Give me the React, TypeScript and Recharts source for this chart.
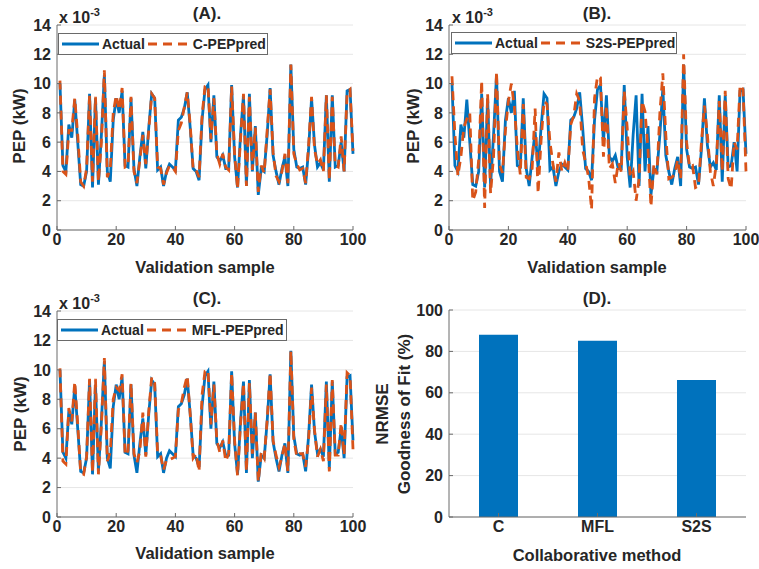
import React from "react";
import { Bar, BarChart, CartesianGrid, Line, LineChart, XAxis, YAxis } from "recharts";

// sample index on the x axis
const samples = Array.from({ length: 100 }, (_, i) => i + 1);

// PEP values, x 10^-3 kW
const actualPep = [
    10.0, 4.4, 4.0, 7.2, 6.3, 8.9, 6.0, 3.1, 3.0, 4.0,
    9.3, 2.9, 9.0, 3.1, 6.5, 10.6, 4.0, 3.3, 7.5, 9.0,
    8.0, 9.5, 4.4, 4.3, 9.0, 4.2, 3.0, 5.0, 6.7, 4.2,
    7.0, 9.3, 9.0, 4.1, 4.3, 3.0, 4.0, 4.5, 4.3, 4.1,
    7.5, 7.7, 8.3, 9.4, 7.0, 4.2, 4.0, 3.4, 7.5, 9.6,
    9.9, 6.0, 9.2, 5.0, 4.7, 5.1, 4.2, 4.2, 9.9, 5.0,
    2.9, 6.5, 9.2, 3.0, 9.3, 4.0, 7.1, 2.4, 4.2, 4.0,
    6.5, 9.7, 5.1, 4.0, 3.1, 4.2, 5.0, 3.0, 11.3, 5.5,
    4.3, 4.2, 4.3, 3.1, 5.5, 9.0, 5.8, 4.3, 4.6, 4.1,
    9.2, 3.3, 9.2, 4.3, 4.4, 6.0, 4.0, 9.5, 9.6, 5.2,
];

const cPepPred = [
    10.2, 4.0, 3.8, 6.8, 6.8, 9.0, 6.5, 3.3, 3.0, 4.2,
    9.2, 3.3, 9.1, 3.3, 6.0, 10.9, 3.6, 4.2, 8.0, 9.2,
    8.2, 9.7, 4.3, 4.4, 9.1, 4.0, 3.2, 4.8, 6.5, 4.5,
    6.8, 9.3, 9.0, 4.3, 4.2, 3.1, 3.9, 4.4, 4.3, 4.0,
    6.8, 7.3, 8.4, 9.4, 7.2, 4.1, 4.1, 3.6, 7.8, 9.8,
    9.9, 6.2, 9.0, 5.2, 4.5, 5.2, 4.3, 4.1, 9.8, 5.2,
    2.8, 6.2, 9.3, 3.0, 9.1, 4.1, 7.0, 2.6, 4.4, 3.9,
    6.8, 9.6, 5.3, 3.7, 3.3, 4.0, 5.2, 3.2, 11.3, 5.2,
    4.5, 4.1, 4.2, 3.2, 5.8, 9.1, 5.5, 4.5, 4.8, 4.0,
    9.2, 3.4, 9.1, 4.4, 4.3, 6.4, 4.0, 9.4, 9.6, 5.4,
];

const s2sPepPred = [
    10.5, 6.5, 3.7, 5.0, 7.0, 7.6, 8.0, 2.0, 2.6, 4.8,
    10.2, 1.5, 9.3, 2.5, 5.0, 10.8, 4.5, 3.9, 6.8, 8.8,
    10.0, 8.4, 5.6, 3.8, 8.6, 3.6, 3.5, 4.2, 8.3, 2.5,
    6.1, 8.8, 8.6, 6.0, 4.5, 3.3, 5.3, 4.0, 4.6, 4.0,
    7.2, 7.8, 9.3, 8.8, 5.5, 4.6, 3.6, 1.4, 9.0, 10.5,
    10.4, 5.0, 8.5, 4.2, 4.5, 3.2, 4.6, 4.0, 9.5, 7.0,
    3.6, 4.0, 2.0, 3.5, 8.8, 8.1, 5.5, 1.6, 4.5, 3.8,
    8.0, 10.7, 6.5, 3.5, 3.6, 3.8, 4.8, 3.5, 12.0, 6.0,
    4.3, 4.4, 2.9, 3.0, 6.0, 8.5, 6.5, 4.0, 3.0, 4.5,
    8.8, 4.0, 9.5, 3.5, 2.8, 6.0, 5.5, 9.9, 9.6, 4.0,
];

const mflPepPred = [
    10.1, 3.8, 3.6, 7.4, 6.5, 9.2, 6.3, 3.0, 2.9, 4.1,
    9.4, 3.0, 9.4, 2.9, 6.2, 10.8, 3.8, 4.4, 8.0, 8.8,
    8.6, 9.7, 4.2, 4.5, 9.1, 4.3, 3.7, 4.5, 7.1, 4.1,
    7.2, 9.5, 9.1, 4.3, 4.2, 3.2, 3.9, 3.9, 4.0, 4.1,
    7.3, 7.7, 8.8, 9.6, 7.0, 4.0, 4.3, 3.1, 8.3, 9.9,
    10.0, 6.3, 9.0, 5.2, 4.4, 5.2, 3.8, 4.3, 9.8, 5.2,
    2.8, 6.3, 9.1, 3.1, 9.1, 4.3, 7.1, 2.4, 4.4, 4.0,
    6.6, 9.8, 5.2, 4.2, 3.4, 4.1, 5.0, 3.1, 11.3, 5.3,
    4.1, 4.3, 4.3, 3.4, 5.3, 8.8, 5.9, 4.1, 4.6, 3.8,
    9.0, 3.1, 9.3, 4.2, 4.2, 6.4, 4.2, 9.8, 9.6, 4.6,
];

const methods = ["C", "MFL", "S2S"];
const fitPercent = [88, 85.2, 66.2];

const pepTicks = [0, 2, 4, 6, 8, 10, 12, 14];
const sampleTicks = [0, 20, 40, 60, 80, 100];
const fitTicks = [0, 20, 40, 60, 80, 100];

const BLUE = "#0072BD";
const ORANGE = "#D95319";
const TXT = "#262626";
const FRAME = "#6a6a6a";
const FONT = '"Liberation Sans", Arial, sans-serif';

const tickStyle = { fontSize: 16, fontWeight: 700, fill: TXT, fontFamily: FONT };

const makeRows = (pred: number[]) =>
    samples.map((s, i) => ({ sample: s, actual: actualPep[i], pred: pred[i] }));

const Label = ({ x, y, size = 17, rotate = false, children }: any) => (
    <div
        style={{
            position: "absolute",
            left: x,
            top: y,
            transform: `translate(-50%, -50%)${rotate ? " rotate(-90deg)" : ""}`,
            whiteSpace: "nowrap",
            fontFamily: FONT,
            fontWeight: 700,
            fontSize: size,
            color: TXT,
            lineHeight: 1,
        }}
    >
        {children}
    </div>
);

const Exponent = ({ x, y }: { x: number; y: number }) => (
    <div
        style={{
            position: "absolute",
            left: x,
            top: y,
            fontFamily: FONT,
            fontWeight: 700,
            fontSize: 16,
            color: TXT,
            lineHeight: 1,
            whiteSpace: "nowrap",
        }}
    >
        x 10<sup style={{ fontSize: 11, verticalAlign: 7 }}>-3</sup>
    </div>
);

const LegendBox = ({ x, y, w, pred }: { x: number; y: number; w: number; pred: string }) => (
    <div
        style={{
            position: "absolute",
            left: x,
            top: y,
            width: w,
            height: 22,
            boxSizing: "border-box",
            border: `1px solid ${FRAME}`,
            background: "#fff",
            display: "flex",
            alignItems: "center",
            fontFamily: FONT,
            fontWeight: 700,
            fontSize: 14,
            color: TXT,
            whiteSpace: "nowrap",
        }}
    >
        <svg width={37} height={10} style={{ marginLeft: 3 }}>
            <line x1={0} x2={37} y1={5} y2={5} stroke={BLUE} strokeWidth={2.8} />
        </svg>
        <span style={{ marginLeft: 3 }}>Actual</span>
        <svg width={40} height={10} style={{ marginLeft: 3 }}>
            <line x1={0} x2={40} y1={5} y2={5} stroke={ORANGE} strokeWidth={2.8} strokeDasharray="9 6" />
        </svg>
        <span style={{ marginLeft: 5 }}>{pred}</span>
    </div>
);

const PepPanel = ({ pred, left, top, mLeft, mRight, mTop, mBottom }: any) => (
    <div style={{ position: "absolute", left, top }}>
        <LineChart
            width={380}
            height={285}
            data={makeRows(pred)}
            margin={{ top: mTop, right: mRight, bottom: mBottom, left: mLeft }}
            style={{ fontFamily: FONT }}
        >
            <CartesianGrid vertical={false} stroke="#e6e6e6" />
            <XAxis
                dataKey="sample"
                type="number"
                domain={[0, 100]}
                ticks={sampleTicks}
                tick={tickStyle}
                height={30}
                tickSize={-4}
                tickMargin={8}
                stroke={FRAME}
            />
            <XAxis
                xAxisId="top"
                orientation="top"
                dataKey="sample"
                type="number"
                domain={[0, 100]}
                ticks={sampleTicks}
                tick={false}
                height={0}
                tickSize={-4}
                stroke={FRAME}
            />
            <YAxis
                type="number"
                domain={[0, 14]}
                ticks={pepTicks}
                tick={tickStyle}
                width={30}
                tickSize={-4}
                tickMargin={10}
                stroke={FRAME}
            />
            <YAxis
                yAxisId="right"
                orientation="right"
                type="number"
                domain={[0, 14]}
                ticks={pepTicks}
                tick={false}
                width={0}
                tickSize={-4}
                stroke={FRAME}
            />
            <Line
                dataKey="actual"
                stroke={BLUE}
                strokeWidth={2.8}
                dot={false}
                type="linear"
                isAnimationActive={false}
            />
            <Line
                dataKey="pred"
                stroke={ORANGE}
                strokeWidth={2.8}
                strokeDasharray="9 6"
                dot={false}
                type="linear"
                isAnimationActive={false}
            />
        </LineChart>
    </div>
);

const fitRows = methods.map((m, i) => ({ method: m, fit: fitPercent[i] }));

const FitPanel = () => (
    <div style={{ position: "absolute", left: 380, top: 285 }}>
        <BarChart
            width={380}
            height={285}
            data={fitRows}
            margin={{ top: 25, right: 14, bottom: 23, left: 39 }}
            style={{ fontFamily: FONT }}
        >
            <CartesianGrid vertical={false} stroke="#e6e6e6" />
            <XAxis
                dataKey="method"
                tick={tickStyle}
                height={30}
                tickSize={-4}
                tickMargin={8}
                stroke={FRAME}
            />
            <XAxis xAxisId="top" orientation="top" dataKey="method" tick={false} tickLine={false} height={0} stroke={FRAME} />
            <YAxis
                type="number"
                domain={[0, 100]}
                ticks={fitTicks}
                tick={tickStyle}
                width={30}
                tickSize={-4}
                tickMargin={10}
                stroke={FRAME}
            />
            <YAxis
                yAxisId="right"
                orientation="right"
                type="number"
                domain={[0, 100]}
                ticks={fitTicks}
                tick={false}
                width={0}
                tickSize={-4}
                stroke={FRAME}
            />
            <Bar dataKey="fit" fill={BLUE} barSize={39} isAnimationActive={false} />
        </BarChart>
    </div>
);

export default function App() {
    return (
        <div
            style={{
                position: "absolute",
                left: 0,
                top: 0,
                width: 759,
                height: 569,
                background: "#fff",
                overflow: "hidden",
            }}
        >
            <PepPanel pred={cPepPred} left={0} top={0} mLeft={27} mRight={27} mTop={25} mBottom={25} />
            <PepPanel pred={s2sPepPred} left={380} top={0} mLeft={39} mRight={14} mTop={25} mBottom={25} />
            <PepPanel pred={mflPepPred} left={0} top={285} mLeft={27} mRight={27} mTop={26} mBottom={23} />
            <FitPanel />

            <LegendBox x={58} y={33} w={210} pred="C-PEPpred" />
            <LegendBox x={451} y={32} w={226} pred="S2S-PEPpred" />
            <LegendBox x={57} y={319} w={230} pred="MFL-PEPpred" />

            <Exponent x={59} y={7} />
            <Exponent x={452} y={7} />
            <Exponent x={59} y={293} />

            <Label x={207} y={13}>(A).</Label>
            <Label x={597} y={13}>(B).</Label>
            <Label x={207} y={298}>(C).</Label>
            <Label x={597} y={298}>(D).</Label>

            <Label x={19} y={126} rotate>PEP (kW)</Label>
            <Label x={413} y={126} rotate>PEP (kW)</Label>
            <Label x={20} y={414} rotate>PEP (kW)</Label>
            <Label x={382} y={414} rotate>NRMSE</Label>
            <Label x={404} y={414} rotate>Goodness of Fit (%)</Label>

            <Label x={205} y={267} size={16.5}>Validation sample</Label>
            <Label x={597} y={267} size={16.5}>Validation sample</Label>
            <Label x={205} y={553} size={16.5}>Validation sample</Label>
            <Label x={597} y={555} size={16.5}>Collaborative method</Label>
        </div>
    );
}
